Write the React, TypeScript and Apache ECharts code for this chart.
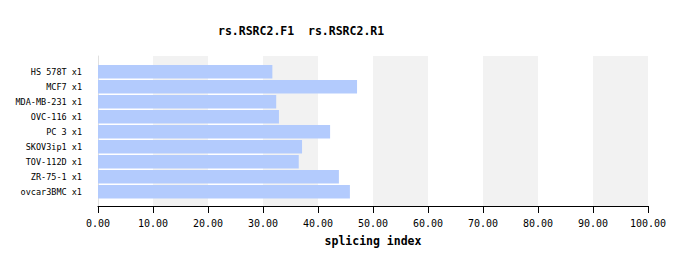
import React, { useEffect, useRef } from "react";
import * as echarts from "echarts";

const categories = [
  "HS 578T x1",
  "MCF7 x1",
  "MDA-MB-231 x1",
  "OVC-116 x1",
  "PC 3 x1",
  "SKOV3ip1 x1",
  "TOV-112D x1",
  "ZR-75-1 x1",
  "ovcar3BMC x1",
];
const values = [31.7, 47.1, 32.4, 32.9, 42.2, 37.1, 36.5, 43.8, 45.8];
const titleText = "rs.RSRC2.F1  rs.RSRC2.R1";
const xName = "splicing index";

const MONO = "'DejaVu Sans Mono', monospace";

export default function App() {
  const ref = useRef<HTMLDivElement>(null);
  useEffect(() => {
    if (!ref.current) return;
    const chart = echarts.init(ref.current, undefined, { renderer: "svg" });
    chart.setOption({
      animation: false,
      backgroundColor: "#ffffff",
      title: {
        text: titleText,
        left: 218,
        top: 25,
        padding: 0,
        textStyle: { fontFamily: MONO, fontSize: 11.5, fontWeight: "bold", color: "#000" },
      },
      grid: [
        { left: 98, right: 40, top: 56, height: 150 },
        { left: 98, right: 40, top: 64.3, height: 135 },
      ],
      xAxis: [
        {
          gridIndex: 0,
          type: "value",
          min: 0,
          max: 100,
          interval: 10,
          axisLine: { show: true, lineStyle: { color: "#000", width: 1 } },
          axisTick: { show: true, length: 7, lineStyle: { color: "#000" } },
          axisLabel: {
            margin: 12,
            fontFamily: MONO,
            fontSize: 10,
            color: "#000",
            formatter: (v: number) => v.toFixed(2),
          },
          splitLine: { show: false },
          splitArea: { show: true, areaStyle: { color: ["rgba(255,255,255,0)", "#f2f2f2"] } },
          name: xName,
          nameLocation: "middle",
          nameGap: 29,
          nameTextStyle: { fontFamily: MONO, fontSize: 11.5, fontWeight: "bold", color: "#000" },
        },
        {
          gridIndex: 1,
          type: "value",
          min: 0,
          max: 100,
          show: false,
        },
      ],
      yAxis: [
        {
          gridIndex: 0,
          type: "value",
          axisLine: { show: true, lineStyle: { color: "#e0e0e0" } },
          axisTick: { show: false },
          axisLabel: { show: false },
          splitLine: { show: false },
        },
        {
          gridIndex: 1,
          type: "category",
          data: categories,
          inverse: true,
          axisLine: { show: false },
          axisTick: { show: false },
          axisLabel: { margin: 16, fontFamily: MONO, fontSize: 8.5, color: "#000" },
          splitLine: { show: false },
        },
      ],
      series: [
        {
          type: "bar",
          xAxisIndex: 1,
          yAxisIndex: 1,
          data: values,
          barWidth: "90%",
          itemStyle: { color: "#b3cbfd" },
        },
      ],
    });
    return () => chart.dispose();
  }, []);
  return (
    <div
      ref={ref}
      style={{ position: "fixed", left: 0, top: 0, width: 688, height: 266 }}
    />
  );
}
